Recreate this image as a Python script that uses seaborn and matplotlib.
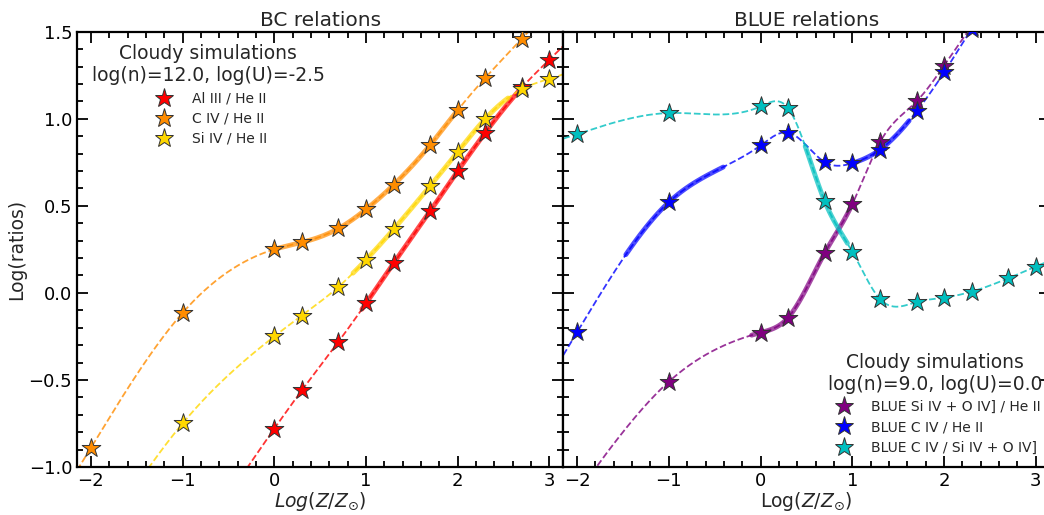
#!/usr/bin/env python
# -*- coding: utf-8 -*-

"""
Cloudy line ratios vs metallicity: BC and BLUE relations.
"""

import numpy as np
import pandas as pd
import matplotlib
matplotlib.use("Agg")
import matplotlib.pyplot as plt
from matplotlib.lines import Line2D
from matplotlib.ticker import MultipleLocator
import seaborn as sns

# --- data --------------------------------------------------------------
log_z = [-2, -1, 0, 0.3, 0.7, 1, 1.3, 1.7, 2, 2.3, 2.7, 3]

# BC relations, log(n)=12.0, log(U)=-2.5
al3_he2 = [-2.30, -1.55, -0.78, -0.56, -0.28, -0.06, 0.17, 0.47, 0.70, 0.92, 1.18, 1.34]
civ_he2 = [-0.89, -0.115, 0.25, 0.29, 0.37, 0.48, 0.62, 0.85, 1.05, 1.235, 1.46, 1.63]
siiv_he2 = [-1.50, -0.75, -0.25, -0.13, 0.035, 0.19, 0.365, 0.615, 0.81, 1.00, 1.17, 1.23]

# BLUE relations, log(n)=9.0, log(U)=0.0
blue_sio_he2 = [-1.15, -0.51, -0.228, -0.142, 0.23, 0.51, 0.864, 1.10, 1.305, 1.53, 1.80, 2.00]
blue_civ_he2 = [-0.226, 0.521, 0.847, 0.921, 0.751, 0.745, 0.822, 1.042, 1.266, 1.515, 1.80, 2.00]
blue_civ_sio = [0.912, 1.033, 1.071, 1.061, 0.525, 0.237, -0.034, -0.053, -0.027, 0.007, 0.084, 0.151]

# metallicity ranges drawn as thick solid lines
al3_thick = [(0.95, 2.7)]
civ_thick = [(0.0, 2.0)]
siiv_thick = [(0.85, 2.55)]
blue_sio_thick = [(-0.1, 1.0)]
blue_civ_thick = [(-1.47, -0.4), (1.0, 1.62)]
blue_civ_sio_thick = [(0.48, 0.95)]

bc_series = [
    ("Al III / He II", al3_he2, al3_thick, "#ff0000"),
    ("C IV / He II", civ_he2, civ_thick, "#ff8c00"),
    ("Si IV / He II", siiv_he2, siiv_thick, "#ffd700"),
]
blue_series = [
    ("BLUE Si IV + O IV] / He II", blue_sio_he2, blue_sio_thick, "#800080"),
    ("BLUE C IV / He II", blue_civ_he2, blue_civ_thick, "#0000ff"),
    ("BLUE C IV / Si IV + O IV]", blue_civ_sio, blue_civ_sio_thick, "#00bfbf"),
]

XLIM = (-2.15, 3.15)
YLIM = (-1.0, 1.5)


def natural_spline(x, y, xs):
    """Natural cubic spline, extrapolated with the end segments."""
    x = np.asarray(x, float)
    y = np.asarray(y, float)
    n = len(x)
    h = np.diff(x)
    A = np.zeros((n, n))
    r = np.zeros(n)
    A[0, 0] = A[-1, -1] = 1.0
    for i in range(1, n - 1):
        A[i, i - 1] = h[i - 1]
        A[i, i] = 2 * (h[i - 1] + h[i])
        A[i, i + 1] = h[i]
        r[i] = 3 * ((y[i + 1] - y[i]) / h[i] - (y[i] - y[i - 1]) / h[i - 1])
    c = np.linalg.solve(A, r)
    b = (y[1:] - y[:-1]) / h - h * (2 * c[:-1] + c[1:]) / 3
    d = (c[1:] - c[:-1]) / (3 * h)
    idx = np.clip(np.searchsorted(x, xs) - 1, 0, n - 2)
    dx = xs - x[idx]
    return y[idx] + b[idx] * dx + c[idx] * dx ** 2 + d[idx] * dx ** 3


def draw_panel(ax, series):
    grid = np.linspace(XLIM[0], XLIM[1], 600)
    for label, vals, thick, color in series:
        curve = pd.DataFrame({"z": grid, "ratio": natural_spline(log_z, vals, grid)})
        sns.lineplot(data=curve, x="z", y="ratio", ax=ax, color=color, lw=1.3,
                     linestyle="--", alpha=0.8, sort=False, estimator=None)
        for lo, hi in thick:
            seg = curve[(curve["z"] >= lo) & (curve["z"] <= hi)]
            sns.lineplot(data=seg, x="z", y="ratio", ax=ax, color=color, lw=3.5,
                         alpha=0.7, sort=False, estimator=None)
    for label, vals, thick, color in series:
        pts = pd.DataFrame({"z": log_z, "ratio": vals})
        sns.scatterplot(data=pts, x="z", y="ratio", ax=ax, marker="*", s=200,
                        color=color, edgecolor="#333333", linewidth=0.7, zorder=5)

    ax.set_xlim(XLIM)
    ax.set_ylim(YLIM)
    ax.xaxis.set_major_locator(MultipleLocator(1))
    ax.xaxis.set_minor_locator(MultipleLocator(0.2))
    ax.yaxis.set_major_locator(MultipleLocator(0.5))
    ax.yaxis.set_minor_locator(MultipleLocator(0.1))
    ax.tick_params(which="both", direction="in", top=True, right=True,
                   width=1.3, labelsize=13, colors="black")
    ax.tick_params(which="major", length=8)
    ax.tick_params(which="minor", length=4)
    for sp in ax.spines.values():
        sp.set_linewidth(1.6)
        sp.set_color("black")


def add_legend(ax, series, title, **kw):
    handles = [Line2D([], [], linestyle="none", marker="*", markersize=14,
                      markerfacecolor=c, markeredgecolor="#333333",
                      markeredgewidth=0.7, label=lab)
               for lab, _, _, c in series]
    leg = ax.legend(handles=handles, title=title, frameon=False, fontsize=10,
                    title_fontsize=13.5, labelspacing=0.45, handletextpad=1.0,
                    **kw)
    leg.get_title().set_multialignment("center")
    return leg


sns.set_style("ticks")
plt.rcParams["font.family"] = ["DejaVu Sans"]
plt.rcParams["mathtext.fontset"] = "dejavusans"

fig = plt.figure(figsize=(10.44, 5.15), dpi=100)
ax1 = fig.add_axes([0.0738, 0.0932, 0.4657, 0.8452])
ax2 = fig.add_axes([0.5396, 0.0932, 0.4657, 0.8452])

draw_panel(ax1, bc_series)
draw_panel(ax2, blue_series)

ax1.set_title("BC relations", fontsize=14.5, pad=4)
ax2.set_title("BLUE relations", fontsize=14.5, pad=4)
ax1.set_ylabel("Log(ratios)", fontsize=13.5, labelpad=2)
ax2.set_ylabel("")
ax2.tick_params(labelleft=False)
ax1.set_xlabel(r"$Log(Z/Z_{\odot})$", fontsize=13.5, labelpad=0)
ax2.set_xlabel(r"Log($Z/Z_{\odot}$)", fontsize=13.5, labelpad=0)

add_legend(ax1, bc_series, "Cloudy simulations\nlog(n)=12.0, log(U)=-2.5",
           loc="upper center", bbox_to_anchor=(0.27, 1.0))
add_legend(ax2, blue_series, "Cloudy simulations\nlog(n)=9.0, log(U)=0.0",
           loc="lower center", bbox_to_anchor=(0.765, 0.0))

fig.savefig("out.png", dpi=100)
plt.close(fig)
